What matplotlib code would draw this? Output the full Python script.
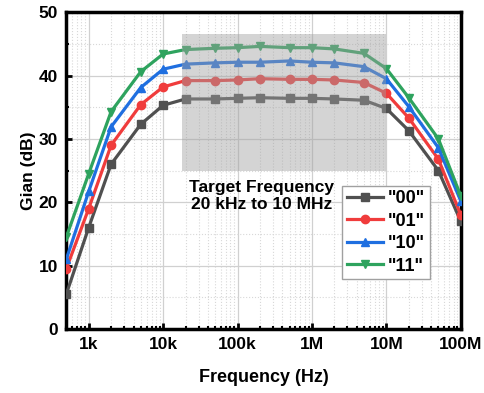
import numpy as np
import matplotlib.pyplot as plt
from matplotlib.ticker import LogLocator, NullFormatter, MultipleLocator

plt.rcParams['font.family'] = ['Liberation Sans', 'DejaVu Sans']
plt.rcParams['font.weight'] = 'bold'

# Datos
freq = [500, 1e3, 2e3, 5e3, 1e4, 2e4, 5e4, 1e5, 2e5, 5e5, 1e6, 2e6, 5e6, 1e7, 2e7, 5e7, 1e8]
gain_00 = [5.5, 16.0, 26.0, 32.3, 35.3, 36.3, 36.3, 36.4, 36.5, 36.4, 36.4, 36.3, 36.1, 34.8, 31.3, 25.0, 17.0]
gain_01 = [9.5, 19.0, 29.0, 35.4, 38.2, 39.2, 39.2, 39.3, 39.5, 39.4, 39.4, 39.3, 38.9, 37.2, 33.3, 26.8, 18.0]
gain_10 = [11.0, 21.7, 31.9, 38.1, 41.0, 41.8, 42.0, 42.1, 42.1, 42.3, 42.1, 42.0, 41.4, 39.5, 35.1, 28.6, 20.2]
gain_11 = [14.5, 24.5, 34.3, 40.6, 43.4, 44.1, 44.3, 44.4, 44.6, 44.4, 44.4, 44.2, 43.5, 41.1, 36.5, 30.0, 21.0]
labels = ['"00"', '"01"', '"10"', '"11"']
target_band = (1.8e4, 1e7)
target_gain = (25.0, 46.5)
xtick_vals = [1e3, 1e4, 1e5, 1e6, 1e7, 1e8]
xtick_labels = ['1k', '10k', '100k', '1M', '10M', '100M']

series = [gain_00, gain_01, gain_10, gain_11]
colors = ['#505050', '#f03c3c', '#1f6fe0', '#2ea35e']
markers = ['s', 'o', '^', 'v']

fig = plt.figure(figsize=(4.84, 3.93), dpi=100)
ax = fig.add_axes([0.137, 0.163, 0.815, 0.806])

for g, c, m, lab in zip(series, colors, markers, labels):
    ax.plot(freq, g, color=c, marker=m, markersize=6, linewidth=2.3, label=lab, zorder=3)

# Banda de frecuencia objetivo
ax.fill_between(target_band, target_gain[0], target_gain[1], color='#a0a0a0', alpha=0.45,
                linewidth=0, zorder=4)
ax.text(2.1e5, 21.0, 'Target Frequency\n20 kHz to 10 MHz', ha='center', va='center',
        fontsize=12.5, fontweight='bold', linespacing=1.2, zorder=5)

ax.set_xscale('log')
ax.set_xlim(500, 1e8)
ax.set_ylim(0, 50)
ax.set_xticks(xtick_vals)
ax.set_xticklabels(xtick_labels)
ax.xaxis.set_minor_locator(LogLocator(base=10, subs=np.arange(2, 10)))
ax.xaxis.set_minor_formatter(NullFormatter())
ax.yaxis.set_major_locator(MultipleLocator(10))
ax.yaxis.set_minor_locator(MultipleLocator(5))

ax.grid(True, which='major', color='#d0d0d0', linewidth=0.9, zorder=0)
ax.grid(True, which='minor', color='#d8d8d8', linestyle=':', linewidth=0.8, zorder=0)
ax.set_axisbelow(True)

ax.tick_params(which='major', direction='in', length=4, width=2, labelsize=12.5, pad=6)
ax.tick_params(which='minor', direction='in', length=2.5, width=1.5)
for lab in ax.get_xticklabels() + ax.get_yticklabels():
    lab.set_fontweight('bold')
for s in ax.spines.values():
    s.set_linewidth(2.5)

ax.set_xlabel('Frequency (Hz)', fontsize=13, fontweight='bold', labelpad=12)
ax.set_ylabel('Gian (dB)', fontsize=12.5, fontweight='bold', labelpad=2)

leg = ax.legend(loc='upper left', bbox_to_anchor=(0.699, 0.452), fontsize=13,
                handlelength=2.0, handletextpad=0.3, borderpad=0.25, labelspacing=0.3,
                borderaxespad=0, fancybox=False, framealpha=1, edgecolor='#a0a0a0')
leg.set_zorder(6)
for t in leg.get_texts():
    t.set_fontweight('bold')

fig.savefig('out.png', dpi=100)
